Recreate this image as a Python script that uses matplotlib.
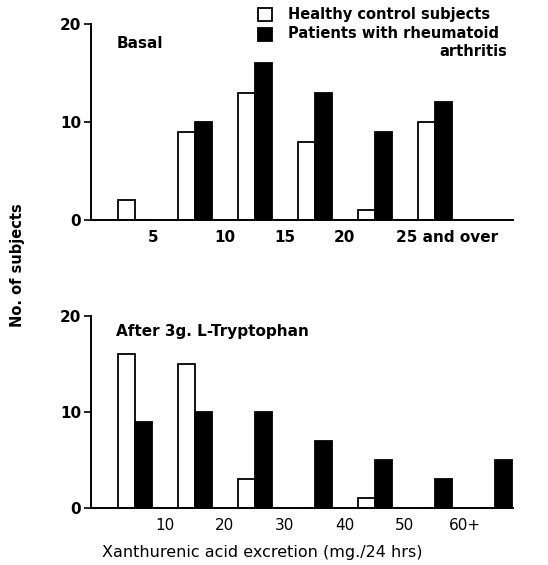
import matplotlib.pyplot as plt
import numpy as np

# basal xanthurenic acid excretion
basal_labels = ["5", "10", "15", "20", "25 and over"]
basal_healthy = [2, 9, 13, 8, 1, 10]
basal_patients = [0, 10, 16, 13, 9, 12]

# after 3g L-tryptophan load
trp_labels = ["10", "20", "30", "40", "50", "60+"]
trp_healthy = [16, 15, 3, 0, 1, 0, 0]
trp_patients = [9, 10, 10, 7, 5, 3, 5]

plt.rcParams['font.family'] = 'DejaVu Sans'
fig = plt.figure(figsize=(5.48, 5.65), dpi=100)
ax1 = fig.add_axes([0.166, 0.6106, 0.770, 0.347])
ax2 = fig.add_axes([0.166, 0.1009, 0.770, 0.340])

w = 0.29

def panel(ax, healthy, patients):
    x = np.arange(len(healthy))
    ax.bar(x - w / 2, healthy, w, color="white", edgecolor="black", linewidth=1.3)
    ax.bar(x + w / 2, patients, w, color="black", edgecolor="black", linewidth=1.3)
    ax.set_xlim(-0.733, 6.3)
    ax.set_ylim(0, 20)
    ax.spines["top"].set_visible(False)
    ax.spines["right"].set_visible(False)
    ax.spines["left"].set_linewidth(1.4)
    ax.spines["bottom"].set_linewidth(1.4)
    ax.set_yticks([0, 10, 20])
    ax.set_yticklabels(["0", "10", "20"], fontsize=11, fontweight="bold")
    ax.tick_params(axis="y", length=5, width=1.2, pad=2)
    ax.tick_params(axis="x", length=0, pad=7)

panel(ax1, basal_healthy, basal_patients)
ax1.set_xticks([0.3, 1.5, 2.5, 3.5, 5.2])
ax1.set_xticklabels(basal_labels, fontsize=11, fontweight="bold")
ax1.text(0.06, 0.94, "Basal", transform=ax1.transAxes, fontsize=11,
         fontweight="bold", va="top")

panel(ax2, trp_healthy, trp_patients)
ax2.set_xticks(np.arange(len(trp_labels)) + 0.5)
ax2.set_xticklabels(trp_labels, fontsize=11)
ax2.text(0.06, 0.96, "After 3g. L-Tryptophan", transform=ax2.transAxes,
         fontsize=11, fontweight="bold", va="top")
fig.text(262 / 548, 1 - 552 / 565, "Xanthurenic acid excretion (mg./24 hrs)",
         fontsize=11.5, ha="center", va="center")

# legend drawn by hand like the original
fig.patches.append(plt.Rectangle((258 / 548, 1 - 21 / 565), 14 / 548, 13 / 565,
                                 transform=fig.transFigure, facecolor="white",
                                 edgecolor="black", linewidth=1.3))
fig.patches.append(plt.Rectangle((258 / 548, 1 - 41 / 565), 14 / 548, 13 / 565,
                                 transform=fig.transFigure, facecolor="black",
                                 edgecolor="black", linewidth=1.3))
fig.text(288 / 548, 1 - 14 / 565, "Healthy control subjects", fontsize=10.5,
         fontweight="bold", va="center")
fig.text(288 / 548, 1 - 34 / 565, "Patients with rheumatoid", fontsize=10.5,
         fontweight="bold", va="center")
fig.text(507 / 548, 1 - 51 / 565, "arthritis", fontsize=10.5,
         fontweight="bold", va="center", ha="right")

fig.text(18 / 548, 1 - 265 / 565, "No. of subjects", rotation=90, fontsize=10.5,
         fontweight="bold", va="center", ha="center")

fig.savefig("out.png", dpi=100)
